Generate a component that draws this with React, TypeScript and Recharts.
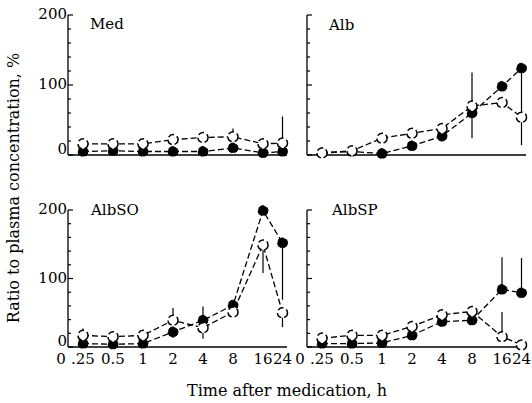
import { LineChart, Line, XAxis, YAxis, ErrorBar } from "recharts";

// time points (h) and their horizontal slot on the axis
const times = ["0.25", "0.5", "1", "2", "4", "8", "16", "24"];
const slots = [1, 2, 3, 4, 5, 6, 7, 7.65];
const xTickSlots = [0.5, 1, 2, 3, 4, 5, 6, 7, 7.65];
const xTickLabels = ["0", ".25", "0.5", "1", "2", "4", "8", "16", "24"];
const yTicks = [0, 20, 40, 60, 80, 100, 120, 140, 160, 180, 200];

// Med
const medOpen = [16, 16, 16, 22, 25, 26, 16, 17];
const medFilled = [5, 6, 5, 5, 5, 10, 3, 5];
const medOpenErr = [[0, 0], [0, 0], [0, 0], [0, 0], [0, 0], [0, 12], [0, 0], [0, 38]];
const medFilledErr = [[0, 0], [0, 0], [0, 0], [0, 0], [0, 0], [0, 0], [0, 0], [0, 0]];

// Alb
const albOpen = [3, 6, 24, 31, 38, 70, 75, 54];
const albFilled = [3, 5, 2, 13, 27, 60, 98, 124];
const albOpenErr = [[0, 0], [0, 0], [0, 0], [0, 0], [0, 0], [0, 48], [0, 0], [40, 0]];
const albFilledErr = [[0, 0], [0, 0], [0, 0], [0, 0], [8, 8], [36, 0], [0, 0], [70, 0]];

// AlbSO
const albsoOpen = [17, 15, 17, 39, 28, 51, 149, 50];
const albsoFilled = [5, 4, 5, 22, 39, 61, 199, 152];
const albsoOpenErr = [[0, 10], [0, 0], [0, 0], [0, 18], [16, 0], [0, 0], [41, 0], [21, 0]];
const albsoFilledErr = [[0, 0], [0, 0], [0, 0], [9, 0], [0, 20], [0, 0], [0, 0], [83, 0]];

// AlbSP
const albspOpen = [13, 17, 17, 30, 47, 52, 15, 3];
const albspFilled = [5, 5, 6, 17, 37, 39, 84, 79];
const albspOpenErr = [[0, 0], [0, 0], [0, 0], [0, 0], [0, 0], [0, 0], [0, 36], [0, 0]];
const albspFilledErr = [[0, 0], [0, 0], [0, 0], [0, 0], [0, 0], [0, 0], [0, 47], [0, 51]];

const FONT = "'DejaVu Serif', serif";

function rows(open: number[], filled: number[], oErr: number[][], fErr: number[][]) {
  return times.map((t, i) => ({
    time: t,
    slot: slots[i],
    open: open[i],
    filled: filled[i],
    oErr: oErr[i],
    fErr: fErr[i],
  }));
}

const makeYTick = (labels: boolean) => (props: any) => {
  const { x, y, payload } = props;
  const ax = x + 3;
  const major = payload.value % 100 === 0;
  // the zero label sits a little above the axis, clear of the x "0"
  const ty = payload.value === 0 ? y - 1 : y + 4;
  return (
    <g>
      <line x1={ax} x2={ax + (major ? 5 : 3)} y1={y} y2={y} stroke="#000" strokeWidth={1.2} />
      {labels && major && (
        <text x={ax - 1} y={ty} textAnchor="end" fontSize={15} fontFamily={FONT} fill="#000">
          {payload.value}
        </text>
      )}
    </g>
  );
};

const XTick = (props: any) => {
  const { x, y, payload, index } = props;
  return (
    <text
      x={index === 0 ? x - 7 : x}
      y={y + 17}
      textAnchor="middle"
      fontSize={15}
      fontFamily={FONT}
      fill="#000"
    >
      {xTickLabels[xTickSlots.indexOf(payload.value)]}
    </text>
  );
};

interface PanelProps {
  data: any[];
  x0: number;
  x1: number;
  y0: number;
  y1: number;
  yLabels: boolean;
  xLabels: boolean;
}

function Panel({ data, x0, x1, y0, y1, yLabels, xLabels }: PanelProps) {
  return (
    <div style={{ position: "absolute", left: x0 - 45, top: y0 - 12 }}>
      <LineChart
        width={x1 - x0 + 51}
        height={y1 - y0 + 42}
        data={data}
        margin={{ top: 12, right: 6, left: 0, bottom: 5 }}
      >
        <XAxis
          dataKey="slot"
          type="number"
          domain={[0.5, 7.8]}
          ticks={xTickSlots}
          interval={0}
          height={25}
          tickLine={false}
          tickSize={0}
          tickMargin={0}
          axisLine={{ stroke: "#000", strokeWidth: 1.3 }}
          tick={xLabels ? XTick : false}
        />
        <YAxis
          type="number"
          domain={[0, 200]}
          ticks={yTicks}
          interval={0}
          width={45}
          tickLine={false}
          tickSize={0}
          tickMargin={3}
          axisLine={{ stroke: "#000", strokeWidth: 1.3 }}
          tick={makeYTick(yLabels)}
        />
        <Line
          dataKey="filled"
          stroke="#000"
          strokeWidth={1.3}
          strokeDasharray="6 3"
          dot={{ r: 5, fill: "#000", stroke: "#000", strokeWidth: 1 }}
          isAnimationActive={false}
        >
          <ErrorBar dataKey="fErr" width={0} stroke="#000" strokeWidth={1.2} direction="y" />
        </Line>
        <Line
          dataKey="open"
          stroke="#000"
          strokeWidth={1.3}
          strokeDasharray="6 3"
          dot={{ r: 5, fill: "#fff", stroke: "#000", strokeWidth: 1.5 }}
          isAnimationActive={false}
        >
          <ErrorBar dataKey="oErr" width={0} stroke="#000" strokeWidth={1.2} direction="y" />
        </Line>
      </LineChart>
    </div>
  );
}

export default function App() {
  return (
    <div style={{ position: "relative", width: 532, height: 403, background: "#fff", overflow: "hidden" }}>
      <style>{"body{margin:0}"}</style>
      <Panel data={rows(medOpen, medFilled, medOpenErr, medFilledErr)} x0={68} x1={287} y0={15} y1={155} yLabels xLabels={false} />
      <Panel data={rows(albOpen, albFilled, albOpenErr, albFilledErr)} x0={307} x1={526} y0={15} y1={155} yLabels={false} xLabels={false} />
      <Panel data={rows(albsoOpen, albsoFilled, albsoOpenErr, albsoFilledErr)} x0={68} x1={287} y0={210} y1={347} yLabels xLabels />
      <Panel data={rows(albspOpen, albspFilled, albspOpenErr, albspFilledErr)} x0={307} x1={526} y0={210} y1={347} yLabels={false} xLabels />
      <svg width={532} height={403} style={{ position: "absolute", left: 0, top: 0, pointerEvents: "none" }}>
        <g fontFamily={FONT} fill="#000" fontSize={15}>
          <text x={90} y={29}>Med</text>
          <text x={329} y={30}>Alb</text>
          <text x={91} y={215}>AlbSO</text>
          <text x={332} y={215}>AlbSP</text>
          <text x={287} y={396} textAnchor="middle" fontSize={16}>Time after medication, h</text>
          <text
            x={0}
            y={0}
            transform="translate(19,188) rotate(-90)"
            textAnchor="middle"
            fontSize={16}
          >
            Ratio to plasma concentration, %
          </text>
        </g>
      </svg>
    </div>
  );
}
